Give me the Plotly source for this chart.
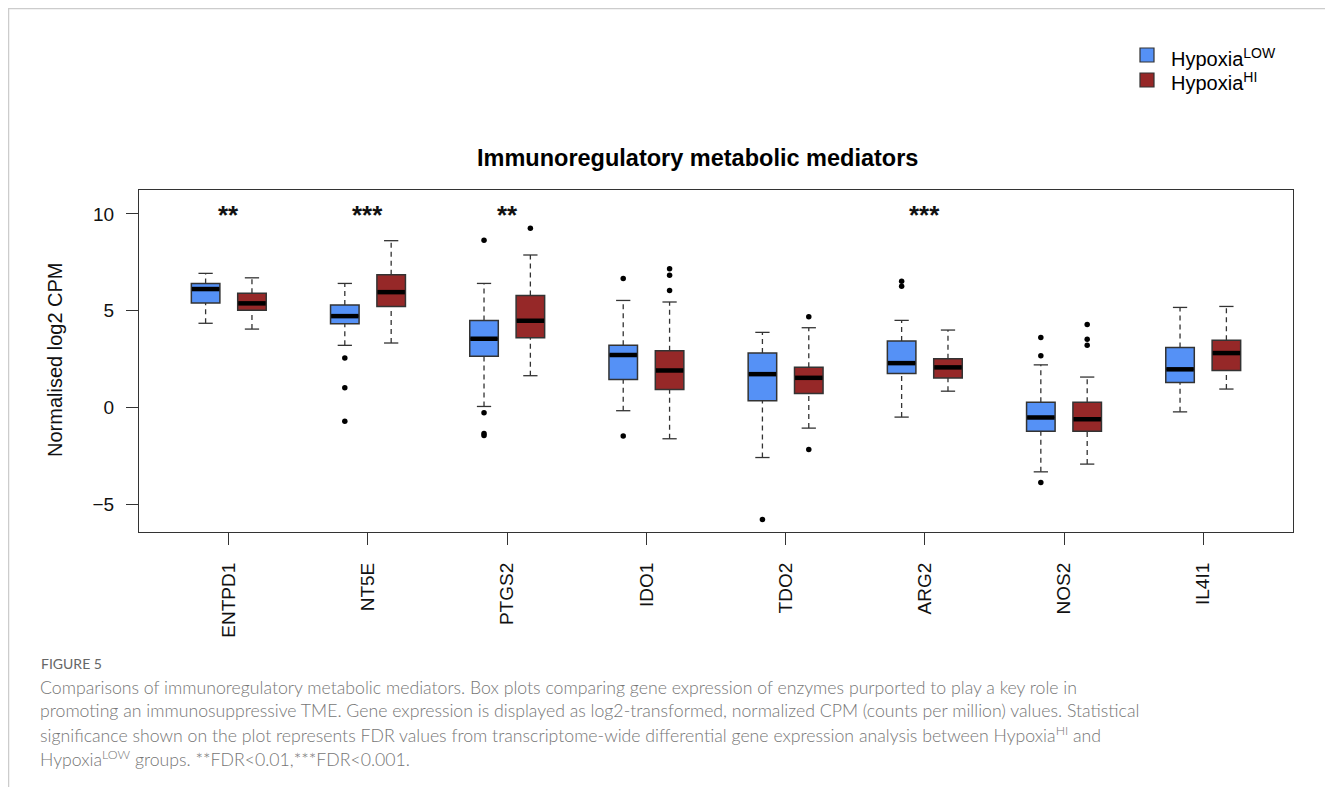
import plotly.graph_objects as go

# genes and significance marks
genes = ["ENTPD1", "NT5E", "PTGS2", "IDO1", "TDO2", "ARG2", "NOS2", "IL4I1"]
sig = ["**", "***", "**", "", "", "***", "", ""]
sig_y = 10.15

# Hypoxia LOW (blue) box stats
low_lower = [4.35, 3.21, 0.05, -0.17, -2.59, -0.50, -3.33, -0.23]
low_q1 = [5.40, 4.33, 2.65, 1.45, 0.34, 1.76, -1.23, 1.29]
low_med = [6.12, 4.72, 3.55, 2.71, 1.72, 2.29, -0.52, 1.97]
low_q3 = [6.41, 5.29, 4.50, 3.21, 2.81, 3.43, 0.27, 3.10]
low_upper = [6.93, 6.41, 6.41, 5.53, 3.88, 4.50, 2.20, 5.17]
low_out = [[], [2.55, 1.02, -0.71], [8.64, -0.28, -1.35, -1.45], [6.67, -1.48],
           [-5.79], [6.52, 6.26], [3.62, 2.67, -3.88], []]

# Hypoxia HI (red) box stats
hi_lower = [4.05, 3.33, 1.64, -1.62, -1.07, 0.84, -2.93, 0.95]
hi_q1 = [5.02, 5.22, 3.60, 0.93, 0.72, 1.52, -1.23, 1.91]
hi_med = [5.38, 5.96, 4.48, 1.91, 1.53, 2.07, -0.61, 2.81]
hi_q3 = [5.90, 6.86, 5.79, 2.93, 2.08, 2.51, 0.27, 3.47]
hi_upper = [6.70, 8.62, 7.88, 5.45, 4.12, 4.00, 1.57, 5.22]
hi_out = [[], [], [9.26], [7.17, 6.83, 6.05], [4.69, -2.17], [], [4.29, 3.52, 3.22], []]

legend_names = ["Hypoxia<sup>LOW</sup>", "Hypoxia<sup>HI</sup>"]
caption_head = "FIGURE 5"
caption_lines = [
    "Comparisons of immunoregulatory metabolic mediators. Box plots comparing gene expression of enzymes purported to play a key role in",
    "promoting an immunosuppressive TME. Gene expression is displayed as log2-transformed, normalized CPM (counts per million) values. Statistical",
    "significance shown on the plot represents FDR values from transcriptome-wide differential gene expression analysis between Hypoxia<sup>HI</sup> and",
    "Hypoxia<sup>LOW</sup> groups. **FDR<0.01,***FDR<0.001.",
]

BLUE = "#5591f6"
RED = "#962828"
EDGE = "#333333"
FONT = "Liberation Sans"

# page geometry (px); the page body adds an 8px margin
PAGE = 8
W, H = 1325, 779
L, R, T, B = 131, 40, 182, 255
PW, PH = W - L - R, H - T - B


def pxx(x):
    return (x - PAGE - L) / PW


def pxy(y):
    return (H - B - (y - PAGE)) / PH


OFF = 0.1665
BW = 0.205
fig = go.Figure()


def add_group(name, color, shift, lower, q1, med, q3, upper, outs):
    pos = [i + shift for i in range(len(genes))]
    wx, wy, sx, sy, mx, my = [], [], [], [], [], []
    for p, lo, a, m, b, up in zip(pos, lower, q1, med, q3, upper):
        wx += [p, p, None, p, p, None]
        wy += [lo, a, None, b, up, None]
        sx += [p - BW / 4, p + BW / 4, None, p - BW / 4, p + BW / 4, None]
        sy += [lo, lo, None, up, up, None]
        mx += [p - BW / 2 + 0.004, p + BW / 2 - 0.004, None]
        my += [m, m, None]
    # dashed whiskers and solid staples
    fig.add_trace(go.Scatter(x=wx, y=wy, mode="lines", showlegend=False, hoverinfo="skip",
                             line=dict(color=EDGE, width=1.3, dash="5px,4px")))
    fig.add_trace(go.Scatter(x=sx, y=sy, mode="lines", showlegend=False, hoverinfo="skip",
                             line=dict(color=EDGE, width=1.3)))
    fig.add_trace(go.Box(x=pos, q1=q1, median=med, q3=q3, lowerfence=q1, upperfence=q3,
                         width=BW, name=name, fillcolor=color, whiskerwidth=0, showlegend=False,
                         line=dict(color=EDGE, width=1.5), boxpoints=False))
    fig.add_trace(go.Scatter(x=mx, y=my, mode="lines", showlegend=False, hoverinfo="skip",
                             line=dict(color="black", width=4.5)))
    ox, oy = [], []
    for p, vals in zip(pos, outs):
        ox += [p] * len(vals)
        oy += vals
    fig.add_trace(go.Scatter(x=ox, y=oy, mode="markers", showlegend=False,
                             marker=dict(color="black", size=5.5)))


add_group(legend_names[0], BLUE, -OFF, low_lower, low_q1, low_med, low_q3, low_upper, low_out)
add_group(legend_names[1], RED, OFF, hi_lower, hi_q1, hi_med, hi_q3, hi_upper, hi_out)

for i, s in enumerate(sig):
    if s:
        fig.add_annotation(x=i, y=sig_y, text="<b>" + s + "</b>", showarrow=False, yshift=-4,
                           yanchor="middle", font=dict(family=FONT, size=26, color="#111111"))

fig.add_annotation(x=pxx(697), y=pxy(158), xref="paper", yref="paper", showarrow=False,
                   xanchor="center", yanchor="middle",
                   text="<b>Immunoregulatory metabolic mediators</b>",
                   font=dict(family=FONT, size=23.5, color="black"))
fig.add_annotation(x=pxx(55), y=pxy(360), xref="paper", yref="paper", showarrow=False,
                   xanchor="center", yanchor="middle",
                   text="Normalised log2 CPM", textangle=-90,
                   font=dict(family=FONT, size=20, color="#111111"))

# legend drawn by hand to match the spacing
for k, (name, color) in enumerate(zip(legend_names, [BLUE, RED])):
    cy = 55 + 25 * k
    fig.add_shape(type="rect", xref="paper", yref="paper", x0=pxx(1140), x1=pxx(1154),
                  y0=pxy(cy - 7), y1=pxy(cy + 7), fillcolor=color,
                  line=dict(color=EDGE, width=1.2))
    fig.add_annotation(x=pxx(1169), y=pxy(cy + 2), xref="paper", yref="paper", showarrow=False,
                       xanchor="left", yanchor="middle", text=name,
                       font=dict(family=FONT, size=20, color="black"))

fig.add_annotation(x=pxx(39), y=pxy(663), xref="paper", yref="paper", showarrow=False,
                   xanchor="left", yanchor="middle", text=caption_head,
                   font=dict(family="Lato", size=14, color="#666666"))
for k, line in enumerate(caption_lines):
    fig.add_annotation(x=pxx(38), y=pxy(687 + 23.7 * k), xref="paper", yref="paper",
                       showarrow=False, xanchor="left", yanchor="middle", text=line,
                       font=dict(family="Lato", size=17.7, color="#767676", weight=300))

fig.add_shape(type="rect", xref="paper", yref="paper", x0=pxx(8.5), x1=pxx(1330),
              y0=pxy(8.5), y1=pxy(820), line=dict(color="#cccccc", width=1.5), layer="below")

axis_common = dict(showline=True, mirror=True, linecolor=EDGE, linewidth=1.3, ticks="outside",
                   ticklen=12, tickcolor=EDGE, tickwidth=1.3, showgrid=False, zeroline=False,
                   tickfont=dict(family=FONT, size=19, color="#111111"))
fig.update_xaxes(range=[-0.645, 7.645], tickvals=list(range(len(genes))), ticktext=genes,
                 tickangle=-90, ticklabelstandoff=10, **axis_common)
fig.update_yaxes(range=[-6.44, 11.24], tickvals=[-5, 0, 5, 10], ticklabelstandoff=8,
                 **axis_common)

fig.update_layout(width=W, height=H, margin=dict(l=L, r=R, t=T, b=B), boxmode="overlay",
                  plot_bgcolor="white", paper_bgcolor="white", showlegend=False)
fig.write_html("out.html")
